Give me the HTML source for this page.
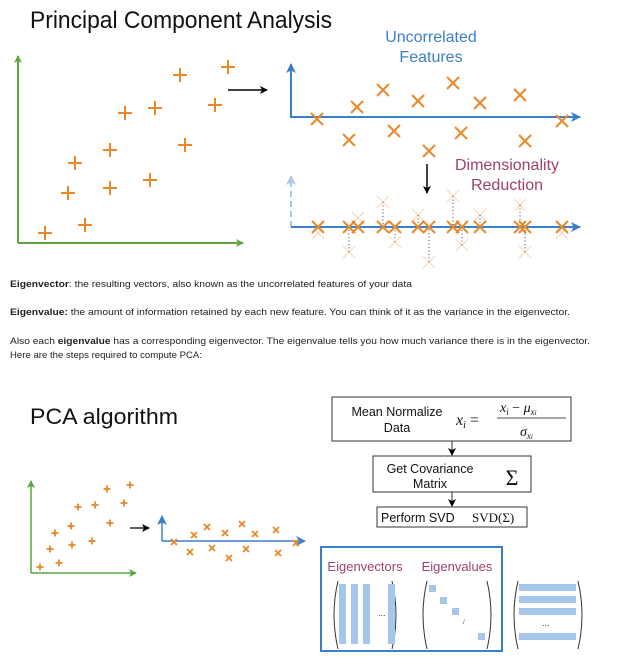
<!DOCTYPE html>
<html><head><meta charset="utf-8"><style>
html,body{margin:0;padding:0;background:#fff;}
svg{display:block;font-family:"Liberation Sans",sans-serif;}
</style></head><body>
<svg id="s" width="628" height="661" viewBox="0 0 628 661" xmlns="http://www.w3.org/2000/svg">
<defs>
<marker id="ag" markerWidth="8" markerHeight="8" refX="7" refY="4" orient="auto" markerUnits="userSpaceOnUse"><path d="M0,0 L8,4 L0,8 L2,4z" fill="#5aa640"/></marker>
<marker id="ab" markerWidth="10" markerHeight="10" refX="9" refY="5" orient="auto" markerUnits="userSpaceOnUse"><path d="M0,0 L10,5 L0,10 L2.5,5z" fill="#3a80c8"/></marker>
<marker id="alb" markerWidth="10" markerHeight="10" refX="9" refY="5" orient="auto" markerUnits="userSpaceOnUse"><path d="M0,0 L10,5 L0,10 L2.5,5z" fill="#a9c9ea"/></marker>
<marker id="ak" markerWidth="8" markerHeight="8" refX="7" refY="4" orient="auto" markerUnits="userSpaceOnUse"><path d="M0,0 L8,4 L0,8 L2,4z" fill="#000"/></marker>
</defs>
<text x="30" y="28" font-size="24" fill="#111" textLength="302" lengthAdjust="spacingAndGlyphs">Principal Component Analysis</text>
<line x1="18" y1="243" x2="18" y2="56" stroke="#5aa640" stroke-width="2" marker-end="url(#ag)"/>
<line x1="18" y1="243" x2="243" y2="243" stroke="#5aa640" stroke-width="2" marker-end="url(#ag)"/>
<g id="tlPts"></g>
<line x1="228" y1="90" x2="267" y2="90" stroke="#000" stroke-width="1.5" marker-end="url(#ak)"/>
<text x="431" y="42" font-size="16" fill="#3a80c8" text-anchor="middle">Uncorrelated</text>
<text x="431" y="62" font-size="16" fill="#3a80c8" text-anchor="middle">Features</text>
<line x1="291" y1="118" x2="291" y2="64" stroke="#3a80c8" stroke-width="2" marker-end="url(#ab)"/>
<line x1="291" y1="117" x2="580" y2="117" stroke="#3a80c8" stroke-width="2" marker-end="url(#ab)"/>
<g id="trPts"></g>
<line x1="427" y1="164" x2="427" y2="193" stroke="#000" stroke-width="1.5" marker-end="url(#ak)"/>
<text x="507" y="170" font-size="16" fill="#a0416f" text-anchor="middle">Dimensionality</text>
<text x="507" y="190" font-size="16" fill="#a0416f" text-anchor="middle">Reduction</text>
<line x1="291" y1="227" x2="291" y2="176" stroke="#a9c9ea" stroke-width="2" stroke-dasharray="6,4" marker-end="url(#alb)"/>
<line x1="291" y1="227" x2="580" y2="227" stroke="#3a80c8" stroke-width="2" marker-end="url(#ab)"/>
<g id="brPts"></g>
<g font-family="'Liberation Sans',sans-serif" font-size="9.3" fill="#222">
<text x="10" y="287" textLength="402" lengthAdjust="spacingAndGlyphs"><tspan font-weight="bold">Eigenvector</tspan>: the resulting vectors, also known as the uncorrelated features of your data</text>
<text x="10" y="315" textLength="560" lengthAdjust="spacingAndGlyphs"><tspan font-weight="bold">Eigenvalue:</tspan> the amount of information retained by each new feature. You can think of it as the variance in the eigenvector.</text>
<text x="10" y="344" textLength="580" lengthAdjust="spacingAndGlyphs">Also each <tspan font-weight="bold">eigenvalue</tspan> has a corresponding eigenvector. The eigenvalue tells you how much variance there is in the eigenvector.</text>
<text x="10" y="358" textLength="192" lengthAdjust="spacingAndGlyphs">Here are the steps required to compute PCA:</text>
</g>
<text x="30" y="424" font-size="22" fill="#111" textLength="148" lengthAdjust="spacingAndGlyphs">PCA algorithm</text>
<line x1="31" y1="573" x2="31" y2="481" stroke="#5aa640" stroke-width="1.5" marker-end="url(#ag)"/>
<line x1="31" y1="573" x2="136" y2="573" stroke="#5aa640" stroke-width="1.5" marker-end="url(#ag)"/>
<g id="slPts"></g>
<line x1="130" y1="528" x2="149" y2="528" stroke="#000" stroke-width="1.2" marker-end="url(#ak)"/>
<line x1="162" y1="541" x2="162" y2="516" stroke="#3a80c8" stroke-width="1.5" marker-end="url(#ab)"/>
<line x1="162" y1="541" x2="305" y2="541" stroke="#3a80c8" stroke-width="1.5" marker-end="url(#ab)"/>
<g id="srPts"></g>
<g>
<rect x="332" y="397" width="239" height="44" fill="#fff" stroke="#333" stroke-width="1"/>
<text x="397" y="416" font-size="12.5" text-anchor="middle" fill="#111">Mean Normalize</text>
<text x="397" y="432" font-size="12.5" text-anchor="middle" fill="#111">Data</text>
<g font-family="'Liberation Serif',serif" font-style="italic" fill="#111">
<text x="456" y="425" font-size="16">x<tspan font-size="10" dy="3">i</tspan><tspan dy="-3" font-style="normal"> =</tspan></text>
<text x="500" y="412" font-size="14">x<tspan font-size="9" dy="3">i</tspan><tspan dy="-3" font-style="normal"> − </tspan>μ<tspan font-size="9" dy="3">x<tspan font-size="7">i</tspan></tspan></text>
<line x1="497" y1="418" x2="566" y2="418" stroke="#111" stroke-width="0.8"/>
<text x="520" y="436" font-size="14">σ<tspan font-size="9" dy="3">x<tspan font-size="7">i</tspan></tspan></text>
</g></g>
<line x1="452" y1="441" x2="452" y2="455" stroke="#333" stroke-width="1" marker-end="url(#ak)"/>
<g>
<rect x="373" y="456" width="158" height="36" fill="#fff" stroke="#333" stroke-width="1"/>
<text x="430" y="473" font-size="12.5" text-anchor="middle" fill="#111">Get Covariance</text>
<text x="430" y="488" font-size="12.5" text-anchor="middle" fill="#111">Matrix</text>
<text x="512" y="485" font-size="22" font-family="'Liberation Serif',serif" text-anchor="middle" fill="#111">Σ</text>
</g>
<line x1="452" y1="492" x2="452" y2="506" stroke="#333" stroke-width="1" marker-end="url(#ak)"/>
<g>
<rect x="377" y="507" width="150" height="20" fill="#fff" stroke="#333" stroke-width="1"/>
<text x="381" y="522" font-size="12.5" fill="#111">Perform SVD</text>
<text x="472" y="522" font-size="13" font-family="'Liberation Serif',serif" fill="#111">SVD(Σ)</text>
</g>
<rect x="321" y="547" width="181" height="104" fill="none" stroke="#3a80c8" stroke-width="2"/>
<text x="365" y="571" font-size="13" fill="#a0416f" text-anchor="middle">Eigenvectors</text>
<text x="457" y="571" font-size="13" fill="#a0416f" text-anchor="middle">Eigenvalues</text>
<g fill="none" stroke="#333" stroke-width="1">
<path d="M338,581 Q330,615 338,649"/><path d="M392,581 Q400,615 392,649"/>
<path d="M427,581 Q419,615 427,649"/><path d="M487,581 Q495,615 487,649"/>
<path d="M518,581 Q510,615 518,649"/><path d="M578,581 Q586,615 578,649"/>
</g>
<g fill="#a3c6ea">
<rect x="339" y="584" width="7" height="60"/><rect x="351" y="584" width="7" height="60"/><rect x="363" y="584" width="7" height="60"/><rect x="388" y="584" width="7" height="60"/>
<rect x="429" y="585" width="7" height="7"/><rect x="440" y="597" width="7" height="7"/><rect x="452" y="608" width="7" height="7"/><rect x="478" y="633" width="7" height="7"/>
<rect x="519" y="584" width="57" height="7"/><rect x="519" y="596" width="57" height="7"/><rect x="519" y="608" width="57" height="7"/><rect x="519" y="633" width="57" height="7"/>
</g>
<text x="378" y="616" font-size="9" fill="#333">...</text>
<text x="463" y="624" font-size="6" fill="#333">/</text>
<text x="542" y="626" font-size="9" fill="#333">...</text>
</svg>
<script>
const origX=[45,85,68,110,150,75,110,185,125,155,215,180,228];
const origY=[233,225,193,188,180,163,150,145,113,108,105,75,67];
const uncX=[317,357,383,418,453,480,520,562,349,394,461,525,429];
const uncY=[119,107,90,101,83,103,95,121,140,131,133,141,151];
const projX=[318,349,358,383,395,418,429,453,462,480,520,525,562];
const projGhostY=[233,252,218,202,242,215,262,196,245,215,205,252,233];
const smOrigX=[40,59,50,72,92,55,71,110,78,95,124,107,130];
const smOrigY=[567,563,549,545,541,533,526,523,507,505,503,489,485];
const smUncX=[174,194,207,225,242,255,276,296,190,212,229,246,278];
const smUncY=[542,535,527,533,524,534,530,543,552,548,558,549,553];
const NS="http://www.w3.org/2000/svg";
const OR="#e8892a";
function ln(g,x1,y1,x2,y2,c,w,op,dash){const l=document.createElementNS(NS,'line');
l.setAttribute('x1',x1);l.setAttribute('y1',y1);l.setAttribute('x2',x2);l.setAttribute('y2',y2);
l.setAttribute('stroke',c);l.setAttribute('stroke-width',w);if(op)l.setAttribute('opacity',op);if(dash)l.setAttribute('stroke-dasharray',dash);


g.appendChild(l);}
function plus(g,x,y,r,w){ln(g,x-r,y,x+r,y,OR,w);ln(g,x,y-r,x,y+r,OR,w);}
function cross(g,x,y,r,w,op){ln(g,x-r,y-r,x+r,y+r,OR,w,op);ln(g,x-r,y+r,x+r,y-r,OR,w,op);}
const tl=document.getElementById('tlPts');
origX.forEach((x,i)=>plus(tl,x,origY[i],7,2));
const tr=document.getElementById('trPts');
uncX.forEach((x,i)=>cross(tr,x,uncY[i],6,2));
const br=document.getElementById('brPts');
projX.forEach((x,i)=>{const gy=projGhostY[i];
 if(Math.abs(gy-227)>10) ln(br,x,gy,x,227,'#444',1,null,'1,2.5');
 cross(br,x,gy,6,1,0.35);cross(br,x,227,6,2);});
const sl=document.getElementById('slPts');
smOrigX.forEach((x,i)=>plus(sl,x,smOrigY[i],3.5,1.8));
const sr=document.getElementById('srPts');
smUncX.forEach((x,i)=>cross(sr,x,smUncY[i],3,1.8));
</script>
</body></html>
